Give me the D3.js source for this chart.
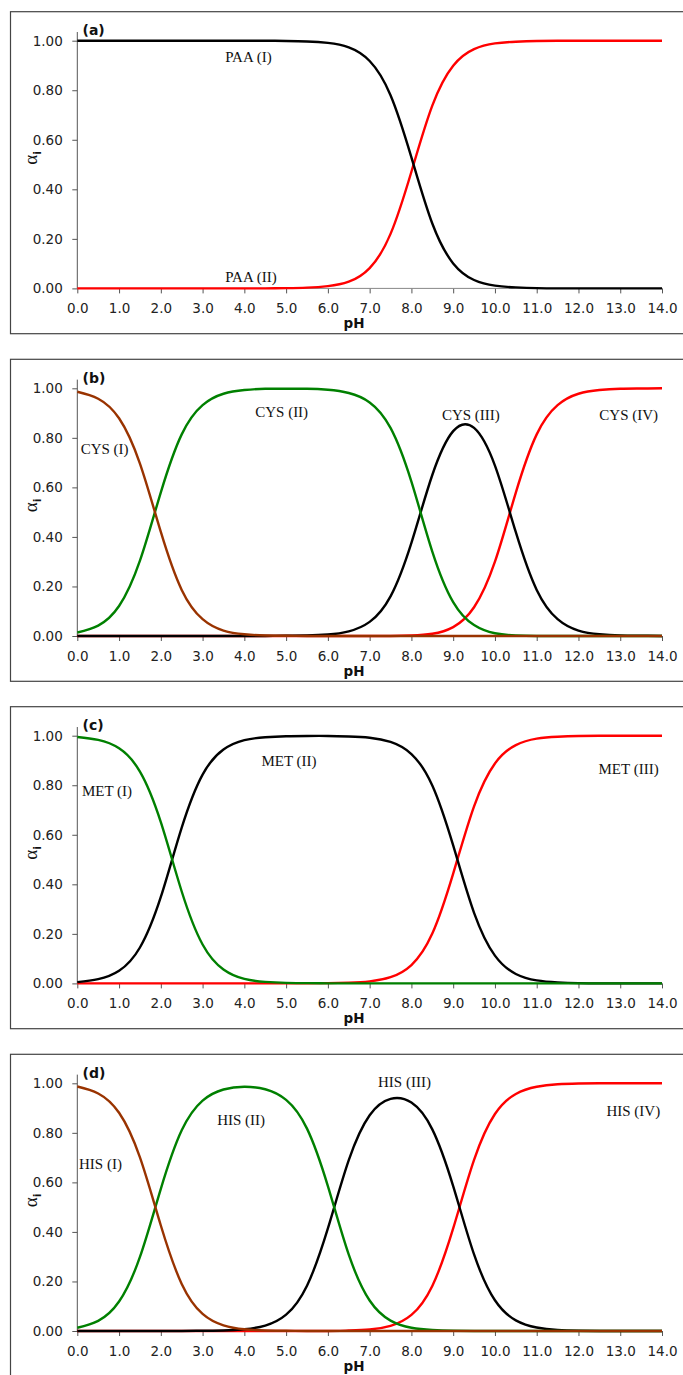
<!DOCTYPE html>
<html>
<head>
<meta charset="utf-8">
<script src="https://cdn.jsdelivr.net/npm/d3@7"></script>
<style>
  body { margin: 0; background: #fff; }
  svg { display: block; }
</style>
</head>
<body>
<script>
// ---- data ----
var pH = [0, 0.5, 1, 1.5, 2, 2.5, 3, 3.5, 4, 4.5, 5, 5.5, 6, 6.5, 7,
          7.5, 8, 8.5, 9, 9.5, 10, 10.5, 11, 11.5, 12, 12.5, 13, 13.5, 14];
var xTicks = [0, 1, 2, 3, 4, 5, 6, 7, 8, 9, 10, 11, 12, 13, 14];
var yTicks = [0, 0.2, 0.4, 0.6, 0.8, 1.0];
var panelNames = ["(a)", "(b)", "(c)", "(d)"];

// (a) PAA
var paaI  = [1, 1, 1, 1, 1, 1, 1, 1, 1, 1, 0.999, 0.997, 0.991, 0.973, 0.918, 0.780, 0.529, 0.262, 0.101, 0.034, 0.011, 0.004, 0.001, 0, 0, 0, 0, 0, 0];
var paaII = [0, 0, 0, 0, 0, 0, 0, 0, 0, 0, 0.001, 0.003, 0.009, 0.027, 0.082, 0.220, 0.471, 0.738, 0.899, 0.966, 0.989, 0.996, 0.999, 1, 1, 1, 1, 1, 1];

// (b) CYS
var cysI   = [0.986, 0.958, 0.879, 0.696, 0.420, 0.186, 0.068, 0.022, 0.007, 0.002, 0.001, 0, 0, 0, 0, 0, 0, 0, 0, 0, 0, 0, 0, 0, 0, 0, 0, 0, 0];
var cysII  = [0.014, 0.042, 0.121, 0.304, 0.580, 0.814, 0.932, 0.978, 0.993, 0.998, 0.998, 0.998, 0.994, 0.981, 0.943, 0.840, 0.623, 0.341, 0.137, 0.044, 0.011, 0.002, 0, 0, 0, 0, 0, 0, 0];
var cysIII = [0, 0, 0, 0, 0, 0, 0, 0, 0, 0, 0.001, 0.002, 0.006, 0.019, 0.057, 0.160, 0.376, 0.650, 0.827, 0.840, 0.688, 0.419, 0.186, 0.068, 0.022, 0.007, 0.002, 0.001, 0];
var cysIV  = [0, 0, 0, 0, 0, 0, 0, 0, 0, 0, 0, 0, 0, 0, 0, 0, 0.002, 0.009, 0.036, 0.116, 0.300, 0.579, 0.814, 0.932, 0.978, 0.993, 0.998, 0.999, 1];

// (c) MET
var metI   = [0.995, 0.983, 0.949, 0.855, 0.651, 0.371, 0.157, 0.056, 0.018, 0.006, 0.002, 0.001, 0, 0, 0, 0, 0, 0, 0, 0, 0, 0, 0, 0, 0, 0, 0, 0, 0];
var metII  = [0.005, 0.017, 0.051, 0.145, 0.349, 0.629, 0.843, 0.944, 0.982, 0.994, 0.998, 0.999, 0.999, 0.997, 0.992, 0.975, 0.926, 0.799, 0.557, 0.285, 0.112, 0.038, 0.012, 0.004, 0.001, 0, 0, 0, 0];
var metIII = [0, 0, 0, 0, 0, 0, 0, 0, 0, 0, 0, 0, 0.001, 0.003, 0.008, 0.025, 0.074, 0.201, 0.443, 0.715, 0.888, 0.962, 0.988, 0.996, 0.999, 1, 1, 1, 1];

// (d) HIS
var hisI   = [0.987, 0.959, 0.881, 0.701, 0.426, 0.190, 0.069, 0.023, 0.007, 0.002, 0.001, 0, 0, 0, 0, 0, 0, 0, 0, 0, 0, 0, 0, 0, 0, 0, 0, 0, 0];
var hisII  = [0.013, 0.041, 0.119, 0.299, 0.574, 0.810, 0.930, 0.975, 0.986, 0.976, 0.933, 0.817, 0.585, 0.308, 0.123, 0.042, 0.013, 0.004, 0.001, 0, 0, 0, 0, 0, 0, 0, 0, 0, 0];
var hisIII = [0, 0, 0, 0, 0, 0, 0.001, 0.002, 0.007, 0.022, 0.066, 0.183, 0.414, 0.690, 0.871, 0.937, 0.922, 0.814, 0.585, 0.309, 0.124, 0.043, 0.014, 0.004, 0.001, 0, 0, 0, 0];
var hisIV  = [0, 0, 0, 0, 0, 0, 0, 0, 0, 0, 0, 0, 0, 0.002, 0.006, 0.021, 0.065, 0.182, 0.414, 0.691, 0.876, 0.957, 0.986, 0.996, 0.999, 1, 1, 1, 1];

// species labels: [text, pH, alpha] (left edge / baseline)
var paaLabels = [["PAA (I)", 3.54, 0.913], ["PAA (II)", 3.54, 0.025]];
var cysLabels = [["CYS (I)", 0.08, 0.736], ["CYS (II)", 4.26, 0.885], ["CYS (III)", 8.73, 0.872], ["CYS (IV)", 12.50, 0.872]];
var metLabels = [["MET (I)", 0.11, 0.758], ["MET (II)", 4.41, 0.879], ["MET (III)", 12.48, 0.845]];
var hisLabels = [["HIS (I)", 0.04, 0.654], ["HIS (II)", 3.35, 0.832], ["HIS (III)", 7.20, 0.986], ["HIS (IV)", 12.67, 0.869]];

// ---- styling ----
var BROWN = "#993300", GREEN = "#008000", RED = "#ff0000", BLACK = "#000000";

var panels = [
  { name: panelNames[0], series: [paaI, paaII], colors: [BLACK, RED], labels: paaLabels },
  { name: panelNames[1], series: [cysI, cysII, cysIII, cysIV], colors: [BROWN, GREEN, BLACK, RED], labels: cysLabels },
  { name: panelNames[2], series: [metI, metII, metIII], colors: [GREEN, BLACK, RED], labels: metLabels },
  { name: panelNames[3], series: [hisI, hisII, hisIII, hisIV], colors: [BROWN, GREEN, BLACK, RED], labels: hisLabels }
];

var W = 683, H = 1375;
var panelTop = [11.7, 359.3, 706.7, 1054.3];

var svg = d3.select("body").append("svg")
  .attr("width", W)
  .attr("height", H);

var x = d3.scaleLinear().domain([0, 14]).range([77.3, 662]);

panels.forEach(function (p, k) {
  var top = panelTop[k];
  var y = d3.scaleLinear().domain([0, 1]).range([top + 276.7, top + 29]);
  var g = svg.append("g");

  // frame
  g.append("rect")
    .attr("x", 10.5).attr("y", top)
    .attr("width", 700).attr("height", 322)
    .attr("fill", "none").attr("stroke", "#444").attr("stroke-width", 1.2);

  // y axis
  var ya = g.append("g")
    .attr("transform", "translate(" + x(0) + ",0)")
    .call(d3.axisLeft(y).tickValues(yTicks).tickFormat(d3.format(".2f")).tickSize(5).tickPadding(9.5));
  ya.select(".domain").remove();
  ya.selectAll("line").attr("stroke", "#555");
  ya.selectAll("text").attr("font-family", "DejaVu Sans").attr("font-size", 13.5).attr("fill", "#222");
  g.append("line")
    .attr("x1", x(0)).attr("x2", x(0))
    .attr("y1", y(0)).attr("y2", y(1.035))
    .attr("stroke", "#555").attr("stroke-width", 1);

  // x axis
  var xa = g.append("g")
    .attr("transform", "translate(0," + y(0) + ")")
    .call(d3.axisBottom(x).tickValues(xTicks).tickFormat(d3.format(".1f")).tickSize(5).tickPadding(10));
  xa.select(".domain").remove();
  xa.selectAll("line").attr("stroke", "#555");
  xa.selectAll("text").attr("font-family", "DejaVu Sans").attr("font-size", 13.5).attr("fill", "#222");
  g.append("line")
    .attr("x1", x(0)).attr("x2", x(14))
    .attr("y1", y(0)).attr("y2", y(0))
    .attr("stroke", "#888").attr("stroke-width", 1);

  // axis titles
  g.append("text")
    .attr("x", 354).attr("y", y(0) + 39.5)
    .attr("text-anchor", "middle")
    .attr("font-family", "DejaVu Sans").attr("font-weight", "bold").attr("font-size", 13.5)
    .attr("fill", "#111")
    .text("pH");

  var al = g.append("text")
    .attr("transform", "translate(37," + y(0.527) + ") rotate(-90)")
    .attr("text-anchor", "middle")
    .attr("fill", "#111");
  al.append("tspan").attr("font-family", "Liberation Serif").attr("font-size", 19).text("α");
  al.append("tspan").attr("font-family", "DejaVu Sans").attr("font-weight", "bold")
    .attr("font-size", 11).attr("dy", 4).text("i");

  // panel letter
  g.append("text")
    .attr("x", 82.5).attr("y", top + 23.5)
    .attr("font-family", "DejaVu Sans").attr("font-weight", "bold").attr("font-size", 14)
    .attr("fill", "#111")
    .text(p.name);

  // curves (last species drawn first)
  var line = d3.line()
    .x(function (d, i) { return x(pH[i]); })
    .y(function (d) { return y(d); })
    .curve(d3.curveNatural);

  for (var s = p.series.length - 1; s >= 0; s--) {
    g.append("path")
      .datum(p.series[s])
      .attr("d", line)
      .attr("fill", "none")
      .attr("stroke", p.colors[s])
      .attr("stroke-width", 2.4)
      .attr("stroke-linejoin", "round");
  }

  // species labels
  g.selectAll(".lab")
    .data(p.labels)
    .enter().append("text")
    .attr("class", "lab")
    .attr("x", function (d) { return x(d[1]); })
    .attr("y", function (d) { return y(d[2]); })
    .attr("font-family", "Liberation Serif")
    .attr("font-size", 15)
    .attr("fill", "#111")
    .text(function (d) { return d[0]; });
});
</script>
</body>
</html>
